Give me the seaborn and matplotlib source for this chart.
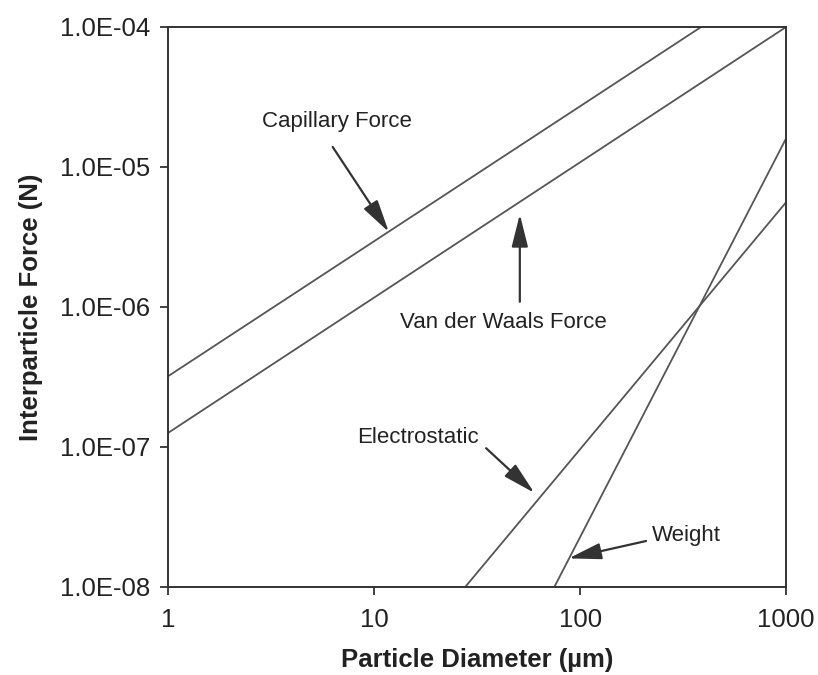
import matplotlib
matplotlib.use("Agg")
import matplotlib.pyplot as plt
import seaborn as sns
import pandas as pd
from matplotlib.ticker import FixedLocator, FixedFormatter, NullLocator

# ---- data ----
cap_diam = [1, 1000]
cap_force = [3.2e-7, 2.5e-4]
vdw_diam = [1, 1000]
vdw_force = [1.26e-7, 1.0e-4]
elec_diam = [27.7, 1000]
elec_force = [1.0e-8, 5.6e-6]
wt_diam = [75, 1000]
wt_force = [1.0e-8, 1.6e-5]

x_ticks = [1, 10, 100, 1000]
x_labels = ["1", "10", "100", "1000"]
y_ticks = [1e-8, 1e-7, 1e-6, 1e-5, 1e-4]
y_labels = ["1.0E-08", "1.0E-07", "1.0E-06", "1.0E-05", "1.0E-04"]

sns.set_style("ticks")
plt.rcParams["font.family"] = ["Liberation Sans", "DejaVu Sans"]

df = pd.concat([
    pd.DataFrame({"d": cap_diam, "f": cap_force, "s": "Capillary"}),
    pd.DataFrame({"d": vdw_diam, "f": vdw_force, "s": "VdW"}),
    pd.DataFrame({"d": elec_diam, "f": elec_force, "s": "Electrostatic"}),
    pd.DataFrame({"d": wt_diam, "f": wt_force, "s": "Weight"}),
])

fig = plt.figure(figsize=(8.18, 6.75), dpi=100)
ax = fig.add_axes([0.2054, 0.1304, 0.7556, 0.8296])
sns.lineplot(data=df, x="d", y="f", units="s", estimator=None, ax=ax,
             color="#555555", lw=1.3, legend=False)
ax.set_xscale("log")
ax.set_yscale("log")
ax.set_xlim(1, 1000)
ax.set_ylim(1e-8, 1e-4)

ax.xaxis.set_major_locator(FixedLocator(x_ticks))
ax.xaxis.set_major_formatter(FixedFormatter(x_labels))
ax.yaxis.set_major_locator(FixedLocator(y_ticks))
ax.yaxis.set_major_formatter(FixedFormatter(y_labels))
ax.xaxis.set_minor_locator(NullLocator())
ax.yaxis.set_minor_locator(NullLocator())
ax.tick_params(axis="both", which="major", direction="out", length=6, width=1.3,
               color="#333333", labelsize=18.5, labelcolor="#222222")
ax.tick_params(axis="x", pad=9)
ax.tick_params(axis="y", pad=7)
for sp in ax.spines.values():
    sp.set_color("#333333")
    sp.set_linewidth(1.4)

ax.set_xlabel("Particle Diameter (\u00b5m)", fontsize=18.5, fontweight="bold",
              color="#222222", labelpad=12)
ax.set_ylabel("Interparticle Force (N)", fontsize=18.5, fontweight="bold",
              color="#222222", labelpad=12)

arrow = dict(arrowstyle="-|>,head_length=1.0,head_width=0.25", color="#333333",
             lw=1.6, mutation_scale=20, shrinkA=0, shrinkB=0)
txt = dict(fontsize=16, color="#222222")

ax.annotate("", xy=(11.8, 3.43e-6), xytext=(6.3, 1.39e-5), arrowprops=arrow)
ax.text(6.6, 2.1e-5, "Capillary Force", ha="center", va="center", **txt)

ax.annotate("", xy=(51, 4.6e-6), xytext=(51, 1.09e-6), arrowprops=arrow)
ax.text(42.3, 7.8e-7, "Van der Waals Force", ha="center", va="center", **txt)

ax.annotate("", xy=(60, 4.7e-8), xytext=(35, 9.8e-8), arrowprops=arrow)
ax.text(8.27, 1.16e-7, "Electrostatic", ha="left", va="center", **txt)

ax.annotate("", xy=(88, 1.6e-8), xytext=(209, 2.13e-8), arrowprops=arrow)
ax.text(224, 2.35e-8, "Weight", ha="left", va="center", **txt)

fig.savefig("out.png", dpi=100)
